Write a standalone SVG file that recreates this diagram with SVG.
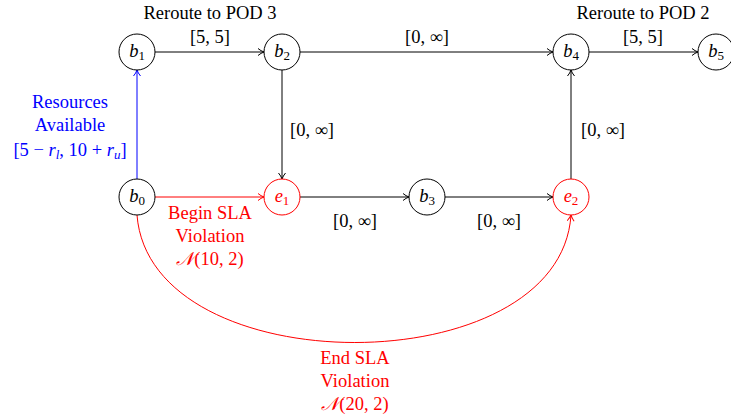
<svg xmlns="http://www.w3.org/2000/svg" width="731" height="415" viewBox="0 0 731 415">
<style>
text{font-family:"Liberation Serif","Times New Roman",serif;font-size:18.5px;text-anchor:middle}
.it{font-style:italic}
.k{fill:#000}
.r{fill:#ff0000}
.b{fill:#0000ff}
.node{fill:#fff;stroke:#000;stroke-width:1}
.rnode{fill:#fff;stroke:#ff0000;stroke-width:1}
.e{fill:none;stroke-width:1}
</style>
<defs>
<marker id="ak" markerWidth="8" markerHeight="8" refX="7" refY="4" orient="auto" markerUnits="userSpaceOnUse"><path d="M1,0.5 Q4,3 7,4 Q4,5 1,7.5" fill="none" stroke="#000" stroke-width="1"/></marker>
<marker id="ar" markerWidth="8" markerHeight="8" refX="7" refY="4" orient="auto" markerUnits="userSpaceOnUse"><path d="M1,0.5 Q4,3 7,4 Q4,5 1,7.5" fill="none" stroke="#ff0000" stroke-width="1"/></marker>
<marker id="ab" markerWidth="8" markerHeight="8" refX="7" refY="4" orient="auto" markerUnits="userSpaceOnUse"><path d="M1,0.5 Q4,3 7,4 Q4,5 1,7.5" fill="none" stroke="#0000ff" stroke-width="1"/></marker>
</defs>
<g id="connectors">
<path class="e" stroke="#000" d="M155,52 H264" marker-end="url(#ak)"/>
<path class="e" stroke="#000" d="M300,52 H553" marker-end="url(#ak)"/>
<path class="e" stroke="#000" d="M589,52 H698" marker-end="url(#ak)"/>
<path class="e" stroke="#000" d="M282,70 V179" marker-end="url(#ak)"/>
<path class="e" stroke="#000" d="M571,179 V70" marker-end="url(#ak)"/>
<path class="e" stroke="#000" d="M300,197 H409" marker-end="url(#ak)"/>
<path class="e" stroke="#000" d="M445,197 H553" marker-end="url(#ak)"/>
<path class="e" stroke="#0000ff" d="M137,179 V70" marker-end="url(#ab)"/>
<path class="e" stroke="#ff0000" d="M155,197 H264" marker-end="url(#ar)"/>
<path class="e" stroke="#ff0000" d="M137,215 C150,385 560,385 571,215" marker-end="url(#ar)"/>
<text class="k" x="210" y="19">Reroute to POD 3</text>
<text class="k" x="210" y="43">[5, 5]</text>
<text class="k" x="427" y="43">[0, ∞]</text>
<text class="k" x="643" y="19">Reroute to POD 2</text>
<text class="k" x="643" y="43">[5, 5]</text>
<text class="k" x="312" y="136">[0, ∞]</text>
<text class="k" x="603" y="136">[0, ∞]</text>
<text class="k" x="355" y="227">[0, ∞]</text>
<text class="k" x="499" y="227">[0, ∞]</text>
<text class="b" x="70" y="108">Resources</text>
<text class="b" x="70" y="131">Available</text>
<text class="b" x="70" y="156">[5 − <tspan class="it">r</tspan><tspan class="it" font-size="13" dy="3">l</tspan><tspan dy="-3">, 10 + </tspan><tspan class="it">r</tspan><tspan class="it" font-size="13" dy="3">u</tspan><tspan dy="-3">]</tspan></text>
<text class="r" x="210" y="219">Begin SLA</text>
<text class="r" x="210" y="242">Violation</text>
<text class="r" x="210" y="265"><tspan class="it">𝒩</tspan>(10, 2)</text>
<text class="r" x="355" y="364">End SLA</text>
<text class="r" x="355" y="387">Violation</text>
<text class="r" x="355" y="410"><tspan class="it">𝒩</tspan>(20, 2)</text>
</g>
<g id="b0"><circle class="node" cx="137" cy="197" r="18"/><text class="k" x="137" y="202"><tspan class="it">b</tspan><tspan font-size="13" dy="3">0</tspan></text></g>
<g id="b1"><circle class="node" cx="137" cy="52" r="18"/><text class="k" x="137" y="57"><tspan class="it">b</tspan><tspan font-size="13" dy="3">1</tspan></text></g>
<g id="b2"><circle class="node" cx="282" cy="52" r="18"/><text class="k" x="282" y="57"><tspan class="it">b</tspan><tspan font-size="13" dy="3">2</tspan></text></g>
<g id="b3"><circle class="node" cx="427" cy="197" r="18"/><text class="k" x="427" y="202"><tspan class="it">b</tspan><tspan font-size="13" dy="3">3</tspan></text></g>
<g id="b4"><circle class="node" cx="571" cy="52" r="18"/><text class="k" x="571" y="57"><tspan class="it">b</tspan><tspan font-size="13" dy="3">4</tspan></text></g>
<g id="b5"><circle class="node" cx="716" cy="52" r="18"/><text class="k" x="716" y="57"><tspan class="it">b</tspan><tspan font-size="13" dy="3">5</tspan></text></g>
<g id="e1"><circle class="rnode" cx="282" cy="197" r="18"/><text class="r" x="282" y="202"><tspan class="it">e</tspan><tspan font-size="13" dy="3">1</tspan></text></g>
<g id="e2"><circle class="rnode" cx="571" cy="197" r="18"/><text class="r" x="571" y="202"><tspan class="it">e</tspan><tspan font-size="13" dy="3">2</tspan></text></g>
</svg>
